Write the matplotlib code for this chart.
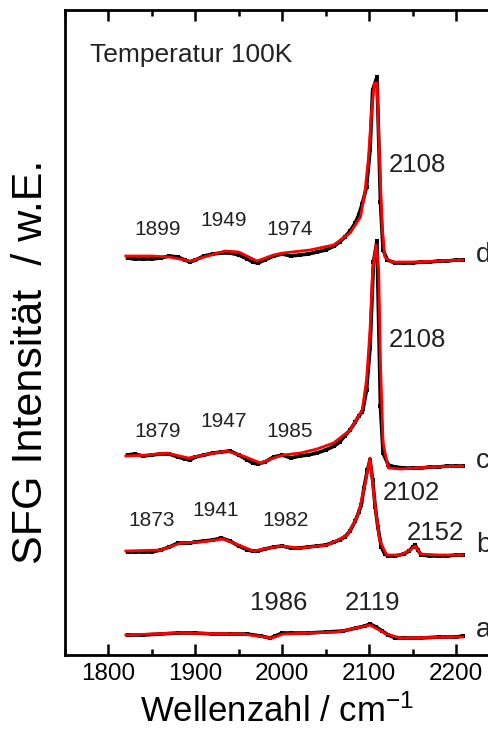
import matplotlib
matplotlib.use('Agg')
import matplotlib.pyplot as plt
from matplotlib.ticker import MultipleLocator

plt.rcParams['font.family'] = ['Liberation Sans', 'DejaVu Sans']
plt.rcParams['mathtext.default'] = 'regular'

# measured SFG spectra (offset for display), wavenumber in cm-1
d_x = [1822, 1830, 1840, 1850, 1860, 1870, 1880, 1888, 1894, 1900, 1910, 1920, 1930, 1940,
       1950, 1960, 1966, 1972, 1980, 1990, 2000, 2010, 2020, 2030, 2040, 2050, 2060, 2066,
       2072, 2078, 2084, 2088, 2092, 2097, 2101, 2104, 2109, 2113, 2116, 2121, 2130, 2140,
       2150, 2160, 2170, 2180, 2190, 2200, 2208]
d_y = [397, 396, 396, 396, 397, 399, 398, 395, 393, 395, 399, 401, 402, 402,
       400, 396, 393, 392, 395, 399, 401, 399, 400, 401, 403, 405, 409, 413,
       418, 424, 432, 440, 451, 468, 505, 565, 578, 453, 405, 395, 392, 392,
       392, 393, 393, 394, 394, 395, 395]

c_x = d_x[:33] + [2093, 2097, 2101, 2105, 2109, 2113, 2116, 2122, 2130, 2140, 2150, 2160,
                  2170, 2180, 2190, 2200, 2208]
c_y = [200, 201, 199, 200, 201, 201, 198, 196, 195, 198, 200, 202, 203, 204,
       200, 195, 192, 191, 193, 198, 200, 197, 199, 200, 202, 205, 209, 213,
       219, 225, 233, 239, 243, 246, 265, 307, 393, 414, 249, 202, 190, 188, 187,
       187, 187, 188, 188, 189, 189, 189]

b_x = [1822, 1830, 1840, 1850, 1860, 1870, 1880, 1888, 1894, 1900, 1910, 1920, 1930, 1940,
       1950, 1960, 1966, 1972, 1980, 1990, 2000, 2010, 2020, 2030, 2040, 2050, 2060, 2066,
       2072, 2078, 2084, 2088, 2091, 2094, 2098, 2101, 2104, 2107, 2110, 2114, 2118, 2122,
       2130, 2140, 2146, 2150, 2153, 2156, 2160, 2170, 2180, 2190, 2200, 2208]
b_y = [103, 103, 103, 103, 105, 108, 112, 112, 112, 113, 114, 115, 117, 114,
       109, 105, 104, 104, 106, 108, 109, 107, 107, 108, 109, 110, 113, 115,
       118, 124, 134, 143, 150, 167, 185, 195, 175, 148, 128, 108, 101, 99,
       99, 101, 104, 108, 110, 105, 100, 99, 99, 99, 100, 100]

a_x = [1822, 1840, 1860, 1880, 1900, 1920, 1940, 1960, 1975, 1986, 1992, 2000, 2010, 2030,
       2050, 2070, 2085, 2095, 2101, 2108, 2115, 2122, 2130, 2140, 2160, 2180, 2200, 2208]
a_y = [20, 20, 21, 22, 22, 21, 21, 21, 19, 17, 19, 22, 22, 22,
       23, 24, 27, 29, 31, 28, 24, 20, 17, 17, 17, 18, 18, 19]

# fitted curves
d_fit_x = [1820, 1850, 1870, 1894, 1910, 1934, 1950, 1971, 1990, 2001, 2032, 2059, 2078,
           2090, 2095, 2099, 2103, 2106, 2109, 2112, 2115, 2118, 2126, 2150, 2180, 2208]
d_fit_y = [399, 399, 398, 394, 398, 404, 403, 394, 400, 402, 405, 410, 422,
           438, 462, 495, 545, 572, 572, 495, 428, 398, 393, 393, 394, 395]
c_fit_x = [1820, 1845, 1867, 1892, 1915, 1936, 1955, 1975, 1990, 2001, 2021, 2040, 2059,
           2078, 2092, 2097, 2101, 2104, 2108, 2111, 2113, 2116, 2122, 2136, 2170, 2208]
c_fit_y = [199, 200, 202, 197, 201, 204, 199, 192, 197, 200, 202, 206, 212,
           225, 245, 275, 325, 385, 410, 385, 292, 212, 187, 186, 188, 189]
b_fit_x = [1820, 1860, 1883, 1906, 1932, 1950, 1967, 1985, 1998, 2021, 2052, 2075, 2086,
           2090, 2093, 2095, 2101, 2107, 2112, 2120, 2136, 2147, 2153, 2159, 2180, 2208]
b_fit_y = [104, 105, 112, 113, 116, 110, 104, 107, 109, 107, 110, 120, 138,
           150, 162, 170, 197, 148, 115, 100, 100, 105, 109, 101, 100, 100]
a_fit_x = [1820, 1879, 1955, 1988, 2001, 2063, 2101, 2120, 2136, 2197, 2208]
a_fit_y = [20, 22, 21, 17, 21, 23, 30, 21, 17, 18, 18]

# peak annotations: (text, x, y, size)
peak_labels = [('1899', 1857, 420, 15), ('1949', 1933, 429, 15), ('1974', 2009, 420, 15),
               ('2108', 2155, 483, 18.5),
               ('1879', 1857, 218, 15), ('1947', 1933, 228, 15), ('1985', 2009, 218, 15),
               ('2108', 2155, 308, 18.5),
               ('1873', 1850, 129, 15), ('1941', 1923, 139, 15), ('1982', 2004, 129, 15),
               ('2102', 2149, 155, 18.5), ('2152', 2176, 115, 18.5),
               ('1986', 1996, 45, 18.5), ('2119', 2104, 45, 18.5)]
trace_names = ['d', 'c', 'b', 'a']
trace_base = [393, 187, 103, 18]

fig = plt.figure(figsize=(4.89, 7.29), dpi=100)
ax = fig.add_axes([65 / 489, 1 - 655 / 729, 434.5 / 489, 645 / 729])

for xs, ys in [(d_x, d_y), (c_x, c_y), (b_x, b_y), (a_x, a_y)]:
    ax.plot(xs, ys, color='black', lw=2.6, marker='s', ms=3.4, mew=0, zorder=2)
for xs, ys in [(d_fit_x, d_fit_y), (c_fit_x, c_fit_y), (b_fit_x, b_fit_y), (a_fit_x, a_fit_y)]:
    ax.plot(xs, ys, color='#ff0000', lw=2, zorder=3)

for txt, x, y, fs in peak_labels:
    ax.text(x, y, txt, fontsize=fs, ha='center', va='baseline', color='#222222')
for name, y in zip(trace_names, trace_base):
    ax.text(2223, y, name, fontsize=20, ha='left', va='baseline', color='#222222', clip_on=False)

ax.text(1779, 593, 'Temperatur 100K', fontsize=19, ha='left', va='baseline', color='#222222')

ax.set_xlim(1750, 2250)
ax.set_ylim(0, 645)
ax.xaxis.set_major_locator(MultipleLocator(100))
ax.xaxis.set_minor_locator(MultipleLocator(50))
ax.set_yticks([])
ax.tick_params(axis='x', which='both', direction='in', top=True, width=1.8, labelsize=17.5, pad=6)
ax.tick_params(axis='x', which='major', length=8)
ax.tick_params(axis='x', which='minor', length=4)
for sp in ax.spines.values():
    sp.set_linewidth(2)

fig.text(277 / 489, 1 - 712 / 729, 'Wellenzahl / cm$^{-1}$', fontsize=25, ha='center', va='center')
fig.text(31 / 489, 1 - 362 / 729, 'SFG Intensität  / w.E.', fontsize=31, rotation=90,
         ha='center', va='center')

fig.savefig('out.png', dpi=100)
